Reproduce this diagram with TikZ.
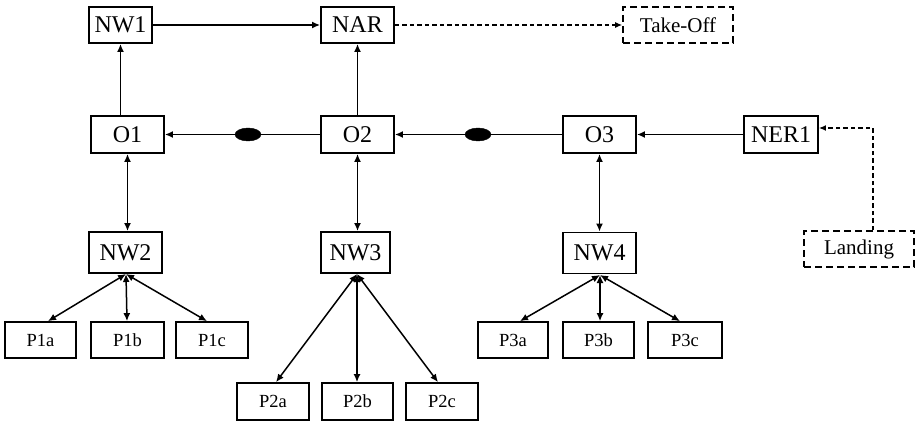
\documentclass[tikz,border=0pt]{standalone}
\usepackage{fontspec}
\setmainfont{Liberation Serif}
\usetikzlibrary{arrows.meta,shapes.geometric}
\begin{document}
\begin{tikzpicture}[x=1pt,y=-1pt,
  box/.style={draw,line width=1.9pt,inner sep=0pt,font=\fontsize{24}{26}\selectfont,minimum height=36pt},
  sbox/.style={draw,line width=1.7pt,inner sep=0pt,font=\fontsize{18.5}{20}\selectfont,minimum height=36pt},
  dbox/.style={draw,line width=1.7pt,dash pattern=on 7pt off 4pt,inner sep=0pt,font=\fontsize{21}{23}\selectfont,minimum height=36pt},
  arr/.style={line width=1.5pt,-{Latex[length=8pt,width=7pt]}},
  darr/.style={line width=1.5pt,{Latex[length=8pt,width=7pt]}-{Latex[length=8pt,width=7pt]}},
  dsh/.style={line width=1.2pt,dash pattern=on 4.5pt off 3pt,-{Latex[length=7pt,width=6pt]}},
  blob/.style={ellipse,fill=black,draw=black,minimum width=26pt,minimum height=13pt,inner sep=0pt}]
\useasboundingbox (0,0) rectangle (917,422);
% top row
\node[box,minimum width=63pt] (NW1) at (120.5,25) {NW1};
\node[box,minimum width=73pt] (NAR) at (357.5,25) {NAR};
\node[dbox,minimum width=110pt] (TO) at (678,25) {Take-Off};
% middle row
\node[box,minimum width=73pt,minimum height=37pt] (O1) at (127.5,134.5) {O1};
\node[box,minimum width=73pt,minimum height=37pt] (O2) at (357.5,134.5) {O2};
\node[box,minimum width=73pt,minimum height=37pt] (O3) at (599.5,134.5) {O3};
\node[box,minimum width=74pt,minimum height=37pt] (NER1) at (781,134.5) {NER1};
% NW row
\node[box,minimum width=73pt,minimum height=41pt] (NW2) at (125.5,252.5) {NW2};
\node[box,minimum width=69pt,minimum height=41pt] (NW3) at (355.5,252.5) {NW3};
\node[box,minimum width=73pt,minimum height=41pt] (NW4) at (599.5,253) {NW4};
\node[dbox,minimum width=110pt] (LD) at (859,249) {Landing};
% P boxes
\node[sbox,minimum width=71pt] (P1a) at (40.5,340) {P1a};
\node[sbox,minimum width=73pt] (P1b) at (127.5,340) {P1b};
\node[sbox,minimum width=72pt] (P1c) at (212,340) {P1c};
\node[sbox,minimum width=72pt,minimum height=37pt] (P2a) at (273,401.5) {P2a};
\node[sbox,minimum width=71pt,minimum height=37pt] (P2b) at (357.5,401.5) {P2b};
\node[sbox,minimum width=72pt,minimum height=37pt] (P2c) at (442,401.5) {P2c};
\node[sbox,minimum width=70pt] (P3a) at (513,340) {P3a};
\node[sbox,minimum width=71pt] (P3b) at (598.5,340) {P3b};
\node[sbox,minimum width=74pt] (P3c) at (685,340) {P3c};
% coordinates
\coordinate (b2) at (126,274);
\coordinate (b3) at (357,274);
\coordinate (b4) at (600,275);
\coordinate (lturn) at (873,128);
% connectors top
\draw[arr] (NW1) -- (NAR);
\draw[dsh] (NAR) -- (TO);
\draw[arr] (O1.north -| NW1) -- (NW1.south);
\draw[arr] (O2) -- (NAR);
% horizontal chain
\draw[arr] (NER1) -- (O3);
\draw[arr] (O3) -- (O2);
\draw[arr] (O2) -- (O1);
\node[blob] (e1) at (248,134.5) {};
\node[blob] (e2) at (478,134.5) {};
% vertical double arrows
\draw[darr] (O1.south) -- (O1.south |- NW2.north);
\draw[darr] (O2.south) -- (O2.south |- NW3.north);
\draw[darr] (O3.south) -- (O3.south |- NW4.north);
% fan-outs
\draw[darr] (b2) -- (P1a.north -| 48,0);
\draw[darr] (b2) -- (P1b.north -| 127,0);
\draw[darr] (b2) -- (P1c.north -| 207,0);
\draw[darr] (b3) -- (P2a.north -| 276,0);
\draw[darr] (b3) -- (P2b.north -| 357,0);
\draw[darr] (b3) -- (P2c.north -| 438,0);
\draw[darr] (b4) -- (P3a.north -| 520,0);
\draw[darr] (b4) -- (P3b.north -| 600,0);
\draw[darr] (b4) -- (P3c.north -| 680,0);
% landing
\draw[dsh] (LD.north -| lturn) -- (lturn) -- (lturn -| NER1.east);
\end{tikzpicture}
\end{document}
